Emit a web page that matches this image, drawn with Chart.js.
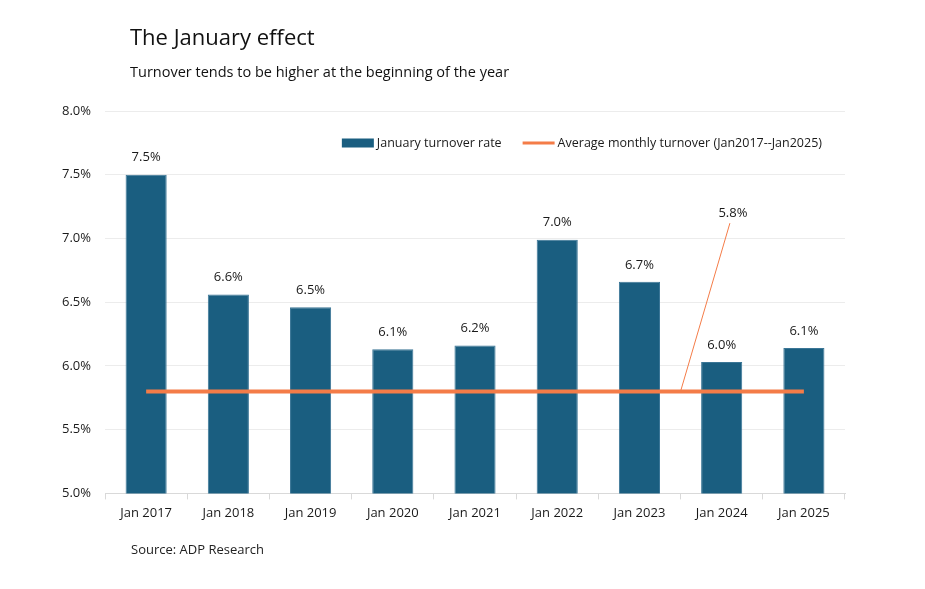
<!DOCTYPE html>
<html>
<head>
<meta charset="utf-8">
<script src="https://cdn.jsdelivr.net/npm/chart.js@4.4.1/dist/chart.umd.min.js"></script>
<style>
  html, body { margin: 0; padding: 0; background: #fff; }
  #wrap { position: relative; width: 925px; height: 589px; font-family: "Open Sans", sans-serif; color: #111; }
  #title { position: absolute; left: 130px; top: 21px; font-size: 22px; }
  #subtitle { position: absolute; left: 130px; top: 62px; font-size: 14.5px; }
  #source { position: absolute; left: 131px; top: 540px; font-size: 13px; color: #222; }
  canvas { position: absolute; left: 0; top: 0; }
</style>
</head>
<body>
<div id="wrap">
  <canvas id="chart" width="925" height="589"></canvas>
  <div id="title">The January effect</div>
  <div id="subtitle">Turnover tends to be higher at the beginning of the year</div>
  <div id="source">Source: ADP Research</div>
</div>
<script>
// --- data ---
const categories = ["Jan 2017", "Jan 2018", "Jan 2019", "Jan 2020", "Jan 2021",
                    "Jan 2022", "Jan 2023", "Jan 2024", "Jan 2025"];
const januaryRate = [7.5, 6.56, 6.46, 6.13, 6.16, 6.99, 6.66, 6.03, 6.14];
const averageMonthly = [5.8, 5.8, 5.8, 5.8, 5.8, 5.8, 5.8, 5.8, 5.8];
const averageLabel = "5.8%";
const yTicks = [5.0, 5.5, 6.0, 6.5, 7.0, 7.5, 8.0];

const BAR_COLOR = "#1a5e80";
const LINE_COLOR = "#f47c48";
const FONT = "'Open Sans', sans-serif";

// value labels above bars
const barLabels = {
  id: "barLabels",
  afterDatasetsDraw(chart) {
    const { ctx } = chart;
    const meta = chart.getDatasetMeta(0);
    ctx.save();
    ctx.font = "13px " + FONT;
    ctx.fillStyle = "#1a1a1a";
    ctx.textAlign = "center";
    ctx.textBaseline = "middle";
    meta.data.forEach((bar, i) => {
      ctx.fillText(januaryRate[i].toFixed(1) + "%", bar.x, bar.y - 17);
    });
    ctx.restore();
  },
};

// leader label for the average line
const averageCallout = {
  id: "averageCallout",
  afterDatasetsDraw(chart) {
    const { ctx, scales } = chart;
    const x0 = scales.x.getPixelForValue(6.5);
    const y0 = scales.y.getPixelForValue(averageMonthly[0]);
    const x1 = scales.x.getPixelForValue(7.1);
    const y1 = scales.y.getPixelForValue(7.12);
    ctx.save();
    ctx.strokeStyle = LINE_COLOR;
    ctx.lineWidth = 1;
    ctx.beginPath();
    ctx.moveTo(x0, y0);
    ctx.lineTo(x1, y1);
    ctx.stroke();
    ctx.font = "13px " + FONT;
    ctx.fillStyle = "#1a1a1a";
    ctx.textAlign = "center";
    ctx.textBaseline = "middle";
    ctx.fillText(averageLabel, x1 + 3, scales.y.getPixelForValue(7.2));
    ctx.restore();
  },
};

// legend row inside the plot, right aligned
const innerLegend = {
  id: "innerLegend",
  afterDraw(chart) {
    const { ctx, chartArea } = chart;
    const ds = chart.data.datasets;
    const y = chartArea.top + 32;
    const swatch = 32, gapText = 3, gapItem = 21;
    ctx.save();
    ctx.font = "12.5px " + FONT;
    ctx.textBaseline = "middle";
    const widths = ds.map((d) => ctx.measureText(d.label).width);
    let total = 0;
    widths.forEach((w, i) => { total += swatch + gapText + w + (i ? gapItem : 0); });
    let x = chartArea.right - 23 - total;
    ds.forEach((d, i) => {
      if (d.type === "bar") {
        ctx.fillStyle = d.backgroundColor;
        ctx.fillRect(x, y - 4.5, swatch, 9);
      } else {
        ctx.strokeStyle = d.borderColor;
        ctx.lineWidth = 3;
        ctx.beginPath();
        ctx.moveTo(x, y);
        ctx.lineTo(x + swatch, y);
        ctx.stroke();
      }
      ctx.fillStyle = "#1a1a1a";
      ctx.fillText(d.label, x + swatch + gapText, y);
      x += swatch + gapText + widths[i] + gapItem;
    });
    ctx.restore();
  },
};

new Chart(document.getElementById("chart"), {
  data: {
    labels: categories,
    datasets: [
      {
        type: "bar",
        label: "January turnover rate",
        data: januaryRate,
        backgroundColor: BAR_COLOR,
        borderColor: "#3b7696",
        borderWidth: 1,
        categoryPercentage: 1,
        barPercentage: 0.5,
        order: 2,
      },
      {
        type: "line",
        label: "Average monthly turnover (Jan2017--Jan2025)",
        data: averageMonthly,
        borderColor: LINE_COLOR,
        backgroundColor: LINE_COLOR,
        borderWidth: 4,
        pointRadius: 0,
        order: 1,
      },
    ],
  },
  options: {
    responsive: false,
    animation: false,
    layout: { padding: { left: 48, right: 80, top: 111, bottom: 62 } },
    plugins: {
      tooltip: { enabled: false },
      legend: { display: false },
    },
    scales: {
      x: {
        offset: true,
        grid: {
          offset: true,
          drawOnChartArea: false,
          drawTicks: true,
          tickLength: 6,
          color: "#d9d9d9",
        },
        border: { color: "#d9d9d9" },
        ticks: {
          color: "#1a1a1a",
          padding: 6,
          font: { family: FONT, size: 13 },
        },
      },
      y: {
        min: 5,
        max: 8,
        afterBuildTicks(scale) {
          scale.ticks = yTicks.map((v) => ({ value: v }));
        },
        grid: { color: "#ececec", drawTicks: false },
        border: { display: false },
        ticks: {
          color: "#1a1a1a",
          padding: 14,
          font: { family: FONT, size: 13 },
          callback: (v) => v.toFixed(1) + "%",
        },
      },
    },
  },
  plugins: [barLabels, averageCallout, innerLegend],
});
</script>
</body>
</html>
